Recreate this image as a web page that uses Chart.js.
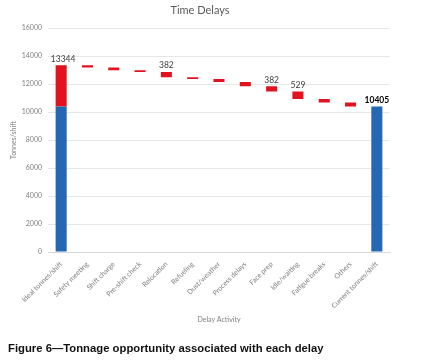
<!DOCTYPE html>
<html>
<head>
<meta charset="utf-8">
<script src="https://cdn.jsdelivr.net/npm/chart.js@4/dist/chart.umd.min.js"></script>
<style>
  html, body { margin: 0; padding: 0; background: #fff; }
  #wrap { position: relative; width: 421px; height: 364px; }
  #caption {
    position: absolute; left: 8px; top: 342px;
    font-family: "Liberation Sans", Arial, sans-serif;
    font-weight: bold; font-size: 11.3px; color: #111;
    white-space: nowrap;
  }
</style>
</head>
<body>
<div id="wrap">
  <canvas id="delayChart" width="421" height="364"></canvas>
  <div id="caption">Figure 6—Tonnage opportunity associated with each delay</div>
</div>
<script>
// Waterfall of tonnage lost to each delay
const categories = ['Ideal tonnes/shift', 'Safety meeting', 'Shift charge', 'Pre-shift check',
    'Relocation', 'Refueling', 'Dust/weather', 'Process delays', 'Face prep',
    'Idle/waiting', 'Fatigue breaks', 'Others', 'Current tonnes/shift'];
const idealTonnes = 13344;
const currentTonnes = 10405;
// tonnes lost per delay, Safety meeting .. Others
const delayLoss = [150, 200, 120, 382, 120, 220, 300, 382, 529, 250, 286];
const barLabels = ['13344', null, null, null, '382', null, null, null, '382', '529', null, null, '10405'];
const yTicks = [0, 2000, 4000, 6000, 8000, 10000, 12000, 14000, 16000];

// blue part: current tonnes at both ends
const blueData = categories.map((c, i) => (i === 0 || i === categories.length - 1) ? [0, currentTonnes] : null);

// red part: gap on the ideal bar, then each delay floating down from the running total
const redData = [[currentTonnes, idealTonnes]];
let running = idealTonnes;
delayLoss.forEach(d => {
    redData.push([running - d, running]);
    running -= d;
});
redData.push(null);

const labelPlugin = {
    id: 'barLabels',
    afterDatasetsDraw(chart) {
        const ctx = chart.ctx;
        const redMeta = chart.getDatasetMeta(1);
        const blueMeta = chart.getDatasetMeta(0);
        ctx.save();
        ctx.textAlign = 'center';
        ctx.textBaseline = 'bottom';
        barLabels.forEach((txt, i) => {
            if (!txt) return;
            const el = redData[i] ? redMeta.data[i] : blueMeta.data[i];
            const last = i === categories.length - 1;
            ctx.font = (last ? 'bold ' : '') + '8.5px Lato';
            ctx.fillStyle = last ? '#000' : '#404040';
            ctx.fillText(txt, el.x + (i === 0 ? 2 : 0), el.y - 2);
        });
        ctx.restore();
    }
};

const ctx = document.getElementById('delayChart').getContext('2d');
new Chart(ctx, {
    type: 'bar',
    data: {
        labels: categories,
        datasets: [{
            data: blueData,
            backgroundColor: '#2468b3',
            grouped: false,
            categoryPercentage: 1,
            barPercentage: 0.42
        }, {
            data: redData,
            backgroundColor: '#e3121f',
            grouped: false,
            categoryPercentage: 1,
            barPercentage: 0.42
        }]
    },
    options: {
        responsive: false,
        animation: false,
        layout: {
            padding: { left: 10, right: 31, top: 4, bottom: 40 }
        },
        plugins: {
            legend: { display: false },
            tooltip: { enabled: false },
            title: {
                display: true,
                text: 'Time Delays',
                color: '#595959',
                font: { family: 'Lato', size: 11, weight: 'normal' },
                padding: { top: 0, bottom: 11 }
            }
        },
        scales: {
            y: {
                min: 0,
                max: 16000,
                afterBuildTicks(scale) {
                    scale.ticks = yTicks.map(v => ({ value: v }));
                },
                afterFit(scale) { scale.width = 38; },
                border: { display: false },
                grid: { color: '#e6e6e6', drawTicks: false },
                ticks: {
                    color: '#808080',
                    font: { family: 'Lato', size: 7 },
                    padding: 6,
                    callback: v => String(v)
                },
                title: {
                    display: true,
                    text: 'Tonnes/shift',
                    color: '#808080',
                    font: { family: 'Lato', size: 7 },
                    padding: 0
                }
            },
            x: {
                afterFit(scale) { scale.height = 72; },
                border: { color: '#d9d9d9' },
                grid: { display: false },
                ticks: {
                    color: '#808080',
                    font: { family: 'Lato', size: 7 },
                    minRotation: 45,
                    maxRotation: 45,
                    autoSkip: false,
                    padding: 0
                },
                title: {
                    display: true,
                    text: 'Delay Activity',
                    color: '#808080',
                    font: { family: 'Lato', size: 7 },
                    padding: 0
                }
            }
        }
    },
    plugins: [labelPlugin]
});
</script>
</body>
</html>
